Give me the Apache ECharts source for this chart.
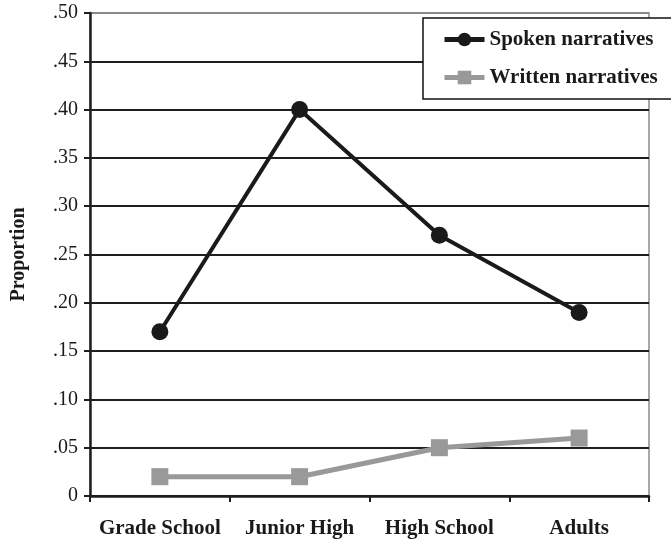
<!DOCTYPE html>
<html><head><meta charset="utf-8">
<script src="https://cdn.jsdelivr.net/npm/echarts@6/dist/echarts.min.js"></script>
<style>html,body{margin:0;padding:0;background:#fff;}#c{width:671px;height:545px;}</style>
</head><body><div id="c"></div>
<script>
const categories = ['Grade School', 'Junior High', 'High School', 'Adults'];
const spoken = [0.17, 0.40, 0.27, 0.19];
const written = [0.02, 0.02, 0.05, 0.06];
const yTickValues = [0, 0.05, 0.10, 0.15, 0.20, 0.25, 0.30, 0.35, 0.40, 0.45, 0.50];
const yTickLabels = ['0', '.05', '.10', '.15', '.20', '.25', '.30', '.35', '.40', '.45', '.50'];
const seriesNames = ['Spoken narratives', 'Written narratives'];

const font = '"Liberation Serif", "Times New Roman", serif';
const chart = echarts.init(document.getElementById('c'));
const gridColors = yTickValues.map((v, i) => i === yTickValues.length - 1 ? '#8a8a8a' : '#1e1e1e');
chart.setOption({
  animation: false,
  backgroundColor: '#fff',
  grid: { left: 90, right: 22, top: 13, bottom: 49, show: true, borderColor: '#8a8a8a', borderWidth: 1.5,
    containLabel: false, outerBoundsMode: 'none' },
  legend: {
    left: 423, top: 18,
    orient: 'vertical',
    backgroundColor: '#fff',
    borderColor: '#111', borderWidth: 1.5,
    padding: [11, 40, 11, 19],
    itemWidth: 40, itemHeight: 17, itemGap: 17,
    lineStyle: { width: 5 },
    textStyle: { fontFamily: font, fontWeight: 'bold', fontSize: 21, color: '#1a1a1a' },
    data: seriesNames
  },
  xAxis: {
    type: 'category', data: categories, boundaryGap: true,
    axisLine: { lineStyle: { color: '#1e1e1e', width: 2.5 } },
    axisTick: { show: true, length: 6, lineStyle: { color: '#1e1e1e', width: 2 } },
    axisLabel: { interval: 0, hideOverlap: false, margin: 22, fontFamily: font, fontWeight: 'bold', fontSize: 21, color: '#1a1a1a' }
  },
  yAxis: {
    type: 'value', min: 0, max: 0.5, interval: 0.05,
    name: 'Proportion', nameLocation: 'middle', nameRotate: 90, nameGap: 61,
    nameTextStyle: { fontFamily: font, fontWeight: 'bold', fontSize: 20, color: '#1a1a1a' },
    axisLine: { show: true, lineStyle: { color: '#1e1e1e', width: 2.5 } },
    axisTick: { show: true, length: 6, inside: false, lineStyle: { color: '#1e1e1e', width: 2 } },
    axisLabel: { margin: 12, fontFamily: font, fontSize: 20, color: '#1a1a1a',
      formatter: v => { const i = yTickValues.findIndex(t => Math.abs(t - v) < 1e-9); return i >= 0 ? yTickLabels[i] : ''; } },
    splitLine: { show: true, lineStyle: { color: gridColors, width: 2 } }
  },
  series: [
    { name: seriesNames[0], type: 'line', data: spoken, symbol: 'circle', symbolSize: 17,
      lineStyle: { color: '#1a1a1a', width: 4 }, itemStyle: { color: '#1a1a1a' } },
    { name: seriesNames[1], type: 'line', data: written, symbol: 'rect', symbolSize: 17,
      lineStyle: { color: '#999999', width: 5 }, itemStyle: { color: '#999999' } }
  ]
});
</script></body></html>
